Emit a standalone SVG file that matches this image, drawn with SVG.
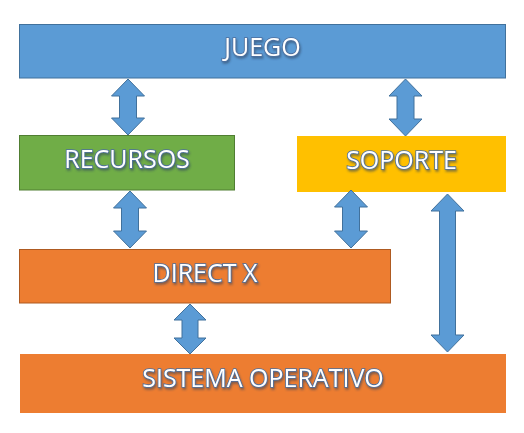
<svg xmlns="http://www.w3.org/2000/svg" width="524" height="433" viewBox="0 0 524 433">
<defs>
<style>
.lbl{font-family:"Open Sans","Liberation Sans",sans-serif;font-size:25px;fill:#ffffff;stroke:#4d6f9e;stroke-width:1.6px;paint-order:stroke;text-anchor:middle;filter:url(#sh)}
.arr{fill:#5b9bd5;stroke:#41719c;stroke-width:1}
</style>
<filter id="sh" x="-20%" y="-40%" width="140%" height="180%">
<feGaussianBlur in="SourceAlpha" stdDeviation="1.2"/>
<feOffset dx="1" dy="1.5" result="b"/>
<feFlood flood-color="#2b3f5c" flood-opacity="0.55"/>
<feComposite in2="b" operator="in"/>
<feMerge><feMergeNode/><feMergeNode in="SourceGraphic"/></feMerge>
</filter>
</defs>
<rect width="524" height="433" fill="#ffffff"/>
<g id="juego">
<rect x="19.5" y="24.5" width="486" height="53.5" fill="#5b9bd5" stroke="#41719c"/>
<text class="lbl" x="262.5" y="56">JUEGO</text>
</g>
<g id="recursos">
<rect x="19.5" y="135.5" width="215" height="54.5" fill="#70ad47" stroke="#507e32"/>
<text class="lbl" x="127" y="168">RECURSOS</text>
</g>
<g id="soporte">
<rect x="297" y="136" width="209" height="56" fill="#ffc000"/>
<text class="lbl" x="401.5" y="169">SOPORTE</text>
</g>
<g id="directx">
<rect x="19.5" y="249.5" width="371" height="53.5" fill="#ed7d31" stroke="#ae5a21"/>
<text class="lbl" x="205" y="282">DIRECT X</text>
</g>
<g id="sistema">
<rect x="20" y="354" width="486" height="59" fill="#ed7d31"/>
<text class="lbl" x="263" y="387">SISTEMA OPERATIVO</text>
</g>
<g id="connectors">
<path class="arr" d="M128,79 L144.5,96 L136.5,96 L136.5,118 L144.5,118 L128,135 L111.5,118 L119.5,118 L119.5,96 L111.5,96 Z"/>
<path class="arr" d="M405.5,79 L422,96 L414,96 L414,119 L422,119 L405.5,136 L389,119 L397,119 L397,96 L389,96 Z"/>
<path class="arr" d="M130,191 L146.5,208 L138.5,208 L138.5,231 L146.5,231 L130,248 L113.5,231 L121.5,231 L121.5,208 L113.5,208 Z"/>
<path class="arr" d="M351,190 L367.5,207 L359.5,207 L359.5,231 L367.5,231 L351,248 L334.5,231 L342.5,231 L342.5,207 L334.5,207 Z"/>
<path class="arr" d="M447.5,194 L464,211 L455.5,211 L455.5,335 L464,335 L447.5,352 L431,335 L439.5,335 L439.5,211 L431,211 Z"/>
<path class="arr" d="M190,304 L206,320 L198,320 L198,338 L206,338 L190,354 L174,338 L182,338 L182,320 L174,320 Z"/>
</g>
</svg>
